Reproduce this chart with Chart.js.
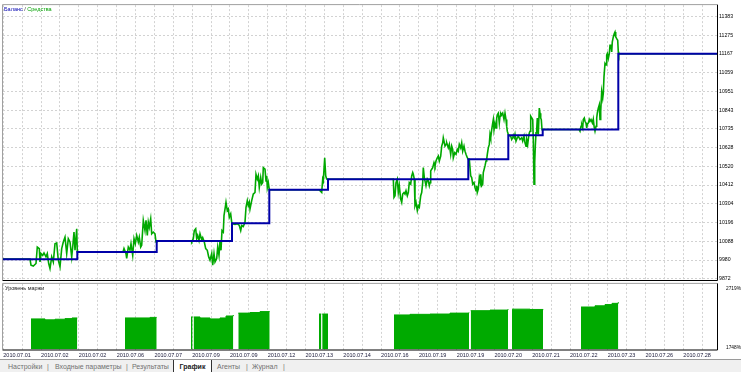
<!DOCTYPE html>
<html>
<head>
<meta charset="utf-8">
<script src="https://cdn.jsdelivr.net/npm/chart.js@4.4.0/dist/chart.umd.min.js"></script>
<style>
    body { margin: 0; width: 741px; height: 372px; background: #fff; position: relative; overflow: hidden; font-family: 'Liberation Sans', Arial, sans-serif; }
    #mainChart { position: absolute; left: 0; top: 0; }
    #marginChart { position: absolute; left: 0; top: 280px; }
    #tabs { position: absolute; left: 0; top: 359px; width: 741px; height: 13px; background: #f0f0f0; border-top: 1px solid #9a9a9a; font-size: 7px; color: #707070; }
    #tabs span { position: absolute; top: 3px; white-space: nowrap; }
    #tabs .active { top: 0; left: 173px; width: 37px; height: 12px; background: #fff; border-left: 1px solid #333; border-right: 1px solid #333; color: #222; font-weight: bold; text-align: center; line-height: 13px; }
</style>
</head>
<body>
<canvas id="mainChart" width="741" height="287"></canvas>
<canvas id="marginChart" width="741" height="80"></canvas>
<div id="tabs">
    <span style="left:8px">Настройки</span>
    <span style="left:47px">|</span>
    <span style="left:55px">Входные параметры</span>
    <span style="left:126px">|</span>
    <span style="left:132px">Результаты</span>
    <span class="active">График</span>
    <span style="left:217px">Агенты</span>
    <span style="left:246px">|</span>
    <span style="left:252px">Журнал</span>
    <span style="left:283px">|</span>
</div>
<script>
// Axis labels
const dateLabels = ['2010.07.01', '2010.07.02', '2010.07.02', '2010.07.06', '2010.07.07', '2010.07.09', '2010.07.09',
    '2010.07.12', '2010.07.13', '2010.07.14', '2010.07.16', '2010.07.19', '2010.07.19', '2010.07.20',
    '2010.07.21', '2010.07.22', '2010.07.23', '2010.07.26', '2010.07.28'];
const priceTicks = [11383, 11275, 11167, 11059, 10951, 10843, 10735, 10628, 10520, 10412, 10304, 10196, 10088, 9980, 9872];
const marginTicks = [1748, 2719];

// Balance: [bar, value], value holds until the next bar
const balance = [[3, 9985], [77.3, 10026], [156.7, 10089], [232, 10192], [269.3, 10385], [328, 10445],
    [468.3, 10560], [508.3, 10699], [542.7, 10732], [618.3, 11168], [717, 11168]];

// Equity: [bar, value]
const equity = [
    [3, 9985], [30, 9985], [31, 9950], [33.3, 9945], [36, 9960], [37.3, 10055], [39.3, 10046], [40, 9969], [41, 10017], [42.7, 10007],
    [44, 10021], [46, 9998], [47.3, 10017], [48.7, 9960], [50, 9931], [51.7, 9998], [53.3, 9969], [55, 10074], [56.7, 10078],
    [58.3, 9979], [60, 9941], [61.7, 10046], [63.3, 10084], [65, 10112], [66.7, 10017], [68.3, 10103], [70, 10084],
    [71.7, 9998], [72.7, 10055], [74, 10141], [75, 10036], [76.7, 10160], [77.3, 10026], [123, 10026],
    [124, 10046], [126, 10017], [126.7, 9989], [128.3, 10055], [130, 10036], [131, 10074], [132.7, 10007], [134, 10103],
    [135.3, 10074], [136.7, 10122], [138.3, 10084], [139.3, 10112], [140.7, 10055], [141.7, 10065], [143.3, 10208],
    [145, 10150], [146, 10208], [147.3, 10122], [148.3, 10198], [149.3, 10169], [150.7, 10217], [151.7, 10131],
    [153.3, 10141], [155, 10131], [156, 10084], [156.7, 10089], [191, 10089],
    [191.7, 10084], [193.3, 10103], [194.3, 10150], [195.7, 10160], [196.7, 10103], [197.7, 10122], [199, 10093],
    [200, 10131], [201.7, 10097], [202.7, 10109], [204.3, 10084], [205.7, 10046], [207.3, 10036], [208.7, 9998],
    [210, 9979], [211.7, 10017], [212.7, 9950], [214, 10017], [215, 9969], [216.7, 9989], [217.7, 10055], [219, 10007],
    [220, 10093], [221, 10036], [222, 10150], [223.3, 10141], [224, 10236], [225.3, 10284], [226, 10312], [227.3, 10265],
    [228.3, 10274], [229.3, 10226], [230.7, 10246], [231.7, 10198], [232.7, 10189], [235, 10185], [237.3, 10189],
    [239.3, 10179], [240.7, 10150], [241.7, 10179], [243.3, 10173], [245, 10198], [246, 10284], [247.3, 10322],
    [248.3, 10293], [249.3, 10312], [250, 10274], [251.7, 10322], [253.3, 10360], [255, 10369], [256, 10474],
    [257.3, 10446], [258.3, 10465], [259.3, 10398], [260.7, 10455], [261.7, 10417], [262.7, 10426], [263.3, 10512],
    [265, 10503], [266, 10436], [266.7, 10465], [267.3, 10398], [268.3, 10426], [269.3, 10385], [319, 10385],
    [320, 10379], [321.7, 10369], [322.7, 10446], [323.3, 10436], [324.7, 10569], [325.7, 10465], [326.7, 10446],
    [328, 10445], [392, 10445],
    [393.3, 10446], [394, 10341], [395, 10350], [396, 10426], [397.3, 10446], [398.3, 10369], [399.3, 10408],
    [400.7, 10331], [401.7, 10312], [402.7, 10360], [404, 10369], [405, 10360], [406, 10379], [407.3, 10350],
    [408.3, 10369], [409.3, 10426], [410.7, 10417], [411.7, 10465], [412.7, 10484], [413.3, 10474], [414.3, 10446],
    [415, 10293], [416, 10312], [417.3, 10265], [418.3, 10293], [419.3, 10284], [420.7, 10350], [421.7, 10369],
    [422.7, 10426], [423.3, 10512], [424.3, 10455], [425, 10436], [426, 10408], [427.3, 10446], [428.3, 10436],
    [429.3, 10408], [430, 10426], [430.7, 10493], [431.7, 10503], [432.7, 10512], [434, 10541], [435, 10522],
    [436, 10550], [437.3, 10569], [438.3, 10579], [439.3, 10550], [440.7, 10579], [441.7, 10636], [442.7, 10655],
    [443.3, 10684], [444, 10665], [445, 10636], [446, 10646], [446.7, 10655], [448.3, 10626], [449.3, 10646],
    [450.7, 10589], [451.7, 10636], [452.7, 10617], [453.3, 10569], [454.7, 10598], [456, 10589], [457.3, 10617],
    [458.3, 10607], [459.3, 10646], [460.7, 10626], [461.7, 10655], [462.7, 10607], [464, 10636], [465, 10607],
    [466, 10589], [467.3, 10569], [468.3, 10560], [469.3, 10560], [470.7, 10465], [471.7, 10455], [472.7, 10417],
    [474, 10426], [475, 10398], [476, 10379], [476.7, 10408], [477.3, 10369], [478.3, 10389], [479.3, 10455],
    [480, 10436], [480.7, 10474], [481.7, 10408], [482.7, 10417], [483.3, 10484], [485, 10522], [486, 10550],
    [486.7, 10560], [487.3, 10589], [488.3, 10626], [489.3, 10646], [490, 10703], [490.7, 10684], [491.7, 10731],
    [492.7, 10769], [493.3, 10789], [494, 10731], [495, 10769], [496, 10741], [496.7, 10798], [497.3, 10817],
    [498.3, 10826], [499.3, 10769], [500, 10808], [500.7, 10826], [501.7, 10817], [502.7, 10826], [504, 10789],
    [505, 10826], [506, 10789], [506.7, 10750], [507.3, 10722], [508.3, 10703], [509.3, 10697], [510.7, 10693],
    [511.7, 10674], [512.7, 10684], [513.3, 10697], [514.3, 10684], [515, 10703], [516, 10665], [517.3, 10684],
    [518.3, 10693], [520, 10674], [521.7, 10684], [522.7, 10665], [524, 10693], [525, 10655], [526, 10636],
    [526.7, 10674], [527.7, 10646], [528.7, 10693], [529.3, 10712], [530, 10722], [530.7, 10808], [531.7, 10798],
    [532.7, 10789], [533.3, 10674], [534, 10417], [534.7, 10541], [535.3, 10636], [536, 10712], [536.7, 10731],
    [537.3, 10798], [538.3, 10703], [539.3, 10855], [540, 10826], [540.7, 10798], [541.3, 10789], [542, 10731],
    [542.7, 10732], [579, 10732],
    [580, 10722], [581, 10750], [581.7, 10760], [582.7, 10741], [583.3, 10789], [584.3, 10798], [585, 10779],
    [586, 10769], [586.7, 10741], [587.3, 10760], [588.3, 10769], [589.3, 10789], [590, 10779], [591, 10789],
    [591.7, 10779], [592.7, 10769], [593.3, 10789], [594.3, 10741], [595, 10722], [596, 10750], [596.7, 10798],
    [597.3, 10826], [598.3, 10855], [599.3, 10874], [600, 10789], [600.7, 10836], [601.7, 10950], [602.7, 10912],
    [603.3, 10941], [604, 11036], [605, 11112], [606, 11103], [606.7, 11160], [607.3, 11169], [608.3, 11141],
    [609.3, 11169], [610, 11217], [611, 11217], [611.7, 11179], [612.3, 11236], [613.3, 11265], [614.3, 11284],
    [615, 11293], [615.7, 11265], [616.7, 11255], [617.7, 11246], [618.3, 11179], [618.7, 11168], [717, 11168]
];

// Margin level, % (null = no open positions)
const marginLevel = [
    [31, 2225], [45, 2210], [55, 2220], [65, 2230], [72, 2241], [77.3, 2241], [77.6, null],
    [125, 2241], [140, 2241], [150, 2250], [156.7, 2250], [157, null],
    [191, 2257], [192.6, 2257], [192.8, null], [193.6, 2257], [200, 2241], [210, 2225], [220, 2241], [226, 2273], [233.3, 2289], [234, null],
    [238.3, 2320], [250, 2330], [260, 2345], [269.7, 2345], [270, null],
    [319, 2305], [321.3, 2305], [321.5, null], [322.2, 2305], [328, 2305], [328.5, null],
    [394, 2290], [410, 2300], [430, 2305], [450, 2320], [469, 2330], [469.6, null],
    [470.7, 2360], [490, 2370], [508, 2385], [508.5, null],
    [512, 2385], [530, 2380], [543, 2370], [543.5, null],
    [581, 2420], [595, 2440], [605, 2460], [612, 2480], [618.3, 2500]
];

const gridStep = 18.89;
const gridX = [];
for (let k = 0; k * gridStep + 3.3 < 717; k++) gridX.push(3.3 + k * gridStep);

const toPoints = list => list.map(p => ({ x: p[0], y: p[1] }));

// Frame around the plot area
const framePlugin = {
    id: 'frame',
    afterDraw(chart) {
        const { ctx, chartArea: a } = chart;
        ctx.save();
        ctx.lineWidth = 1;
        ctx.strokeStyle = '#a0a0a0';
        ctx.beginPath();
        ctx.moveTo(a.left - 0.5, a.bottom);
        ctx.lineTo(a.left - 0.5, a.top - 0.5);
        ctx.lineTo(a.right, a.top - 0.5);
        ctx.stroke();
        ctx.strokeStyle = '#000';
        ctx.beginPath();
        ctx.moveTo(a.right + 0.5, a.top - 0.5);
        ctx.lineTo(a.right + 0.5, a.bottom + 0.5);
        ctx.lineTo(a.left - 0.5, a.bottom + 0.5);
        ctx.stroke();
        ctx.restore();
    }
};

// Small caption in the top left corner
const captionPlugin = {
    id: 'caption',
    afterDraw(chart, args, opts) {
        const ctx = chart.ctx;
        ctx.save();
        ctx.font = '5.5px "Liberation Sans", Arial, sans-serif';
        ctx.textBaseline = 'middle';
        let x = opts.x;
        opts.parts.forEach(part => {
            ctx.fillStyle = part.color;
            ctx.fillText(part.text, x, opts.y);
            x += ctx.measureText(part.text).width;
        });
        ctx.restore();
    }
};

const gridColor = '#d2d2d2';
const tickFont = { family: '"Liberation Sans", Arial, sans-serif', size: 5.5 };
const narrowFont = { family: '"Liberation Sans Narrow", "Liberation Sans", Arial, sans-serif', size: 5.2 };

// Balance / equity chart
new Chart(document.getElementById('mainChart'), {
    type: 'line',
    data: {
        datasets: [{
            label: 'Баланс',
            data: toPoints(balance),
            borderColor: '#0000a8',
            borderWidth: 2,
            stepped: 'before',
            pointRadius: 0,
            order: 0
        }, {
            label: 'Средства',
            data: toPoints(equity),
            borderColor: '#00a800',
            borderWidth: 1.6,
            pointRadius: 0,
            order: 1
        }]
    },
    options: {
        responsive: false,
        animation: false,
        events: [],
        layout: { padding: { left: 3, top: 3, right: 0, bottom: 7 } },
        plugins: {
            legend: { display: false },
            tooltip: { enabled: false },
            caption: {
                x: 4, y: 9,
                parts: [{ text: 'Баланс', color: '#0000b0' }, { text: ' / ', color: '#333' }, { text: 'Средства', color: '#00a000' }]
            }
        },
        scales: {
            x: {
                type: 'linear',
                min: 3,
                max: 717,
                afterBuildTicks: s => { s.ticks = gridX.map(v => ({ value: v })); },
                afterFit: s => { s.height = 0; },
                ticks: { display: false },
                grid: { color: gridColor, drawTicks: false },
                border: { display: false, dash: [2, 2] }
            },
            y: {
                position: 'right',
                min: 9865,
                max: 11448,
                afterBuildTicks: s => { s.ticks = priceTicks.map(v => ({ value: v })); },
                afterFit: s => { s.width = 24; },
                ticks: { color: '#000', font: narrowFont, padding: 2, autoSkip: false, callback: v => String(v) },
                grid: { color: gridColor, drawTicks: false },
                border: { display: false, dash: [2, 2] }
            }
        }
    },
    plugins: [framePlugin, captionPlugin]
});

// Margin level chart
new Chart(document.getElementById('marginChart'), {
    type: 'line',
    data: {
        datasets: [{
            label: 'Уровень маржи',
            data: toPoints(marginLevel),
            borderColor: '#00aa00',
            backgroundColor: '#00aa00',
            borderWidth: 1,
            stepped: 'before',
            fill: 'start',
            spanGaps: false,
            pointRadius: 0
        }]
    },
    options: {
        responsive: false,
        animation: false,
        events: [],
        layout: { padding: { left: 3, top: 2, right: 0, bottom: 0 } },
        plugins: {
            legend: { display: false },
            tooltip: { enabled: false },
            caption: { x: 5, y: 8, parts: [{ text: 'Уровень маржи', color: '#222' }] }
        },
        scales: {
            x: {
                type: 'linear',
                min: 3,
                max: 717,
                afterBuildTicks: s => { s.ticks = gridX.map(v => ({ value: v })); },
                afterFit: s => { s.height = 10.5; },
                ticks: {
                    color: '#1a1a3a',
                    font: tickFont,
                    align: 'start',
                    padding: 3,
                    autoSkip: false,
                    maxRotation: 0,
                    callback: (v, i) => (i % 2 === 0 ? dateLabels[i / 2] : '')
                },
                grid: { color: gridColor, drawTicks: false },
                border: { display: false, dash: [2, 2] }
            },
            y: {
                position: 'right',
                min: 1724,
                max: 2799,
                afterBuildTicks: s => { s.ticks = marginTicks.map(v => ({ value: v })); },
                afterFit: s => { s.width = 24; },
                ticks: { color: '#000', font: { family: narrowFont.family, size: 4.8 }, padding: 1, autoSkip: false, callback: v => v + '%' },
                grid: { display: false },
                border: { display: false }
            }
        }
    },
    plugins: [framePlugin, captionPlugin]
});
</script>
</body>
</html>
